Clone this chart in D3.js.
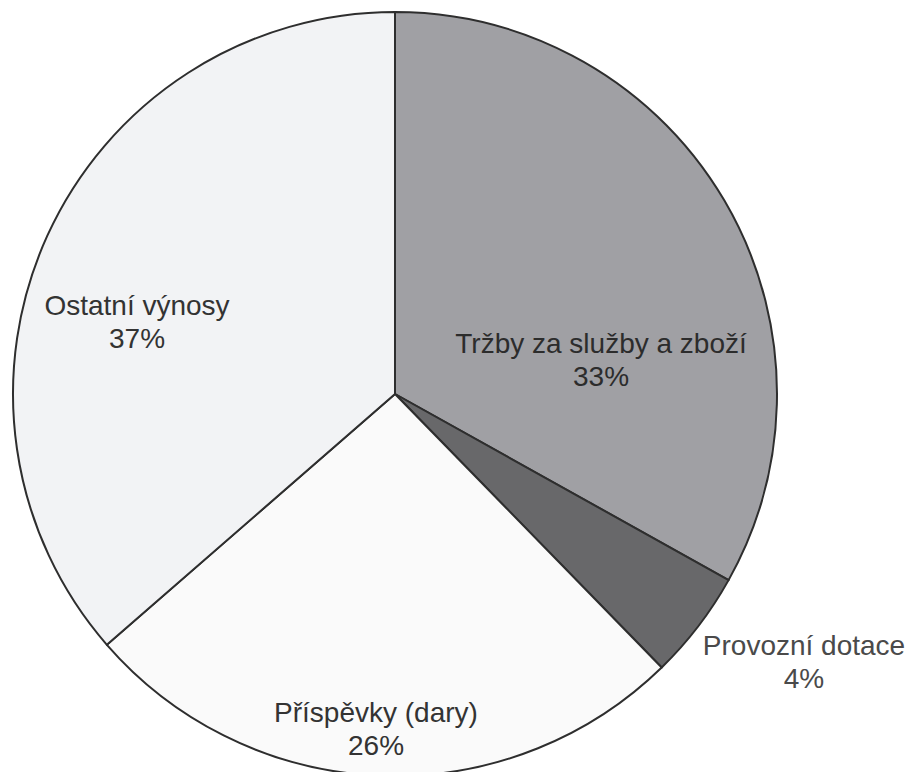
<!DOCTYPE html>
<html>
<head>
<meta charset="utf-8">
<script src="https://cdn.jsdelivr.net/npm/d3@7"></script>
<style>
  html, body { margin: 0; padding: 0; background: #fff; }
  svg { display: block; }
</style>
</head>
<body>
<svg id="chart" width="912" height="772"></svg>
<script>
const categories = ['Tržby za služby a zboží', 'Provozní dotace', 'Příspěvky (dary)', 'Ostatní výnosy'];
const values = [33.1, 4.6, 25.9, 36.4];
const percentLabels = ['33%', '4%', '26%', '37%'];

const colors = ['#a0a0a4', '#68686a', '#fafafa', '#f2f3f5'];
const textColors = ['#2c2c2c', '#4a4a4a', '#333', '#333'];
// first-line baseline of each label, relative to pie centre (px)
const labelOffsets = [[206, -41], [409, 261], [-19, 328], [-258, -79]];

const cx = 395, cy = 394, radius = 382;
const lineGap = 33;

const svg = d3.select('#chart');
const g = svg.append('g').attr('transform', 'translate(' + cx + ',' + cy + ')');

const data = categories.map(function(c, i) {
    return { label: c, value: values[i], pct: percentLabels[i], color: colors[i], text: textColors[i], off: labelOffsets[i] };
});

const pie = d3.pie()
    .sort(null)
    .value(function(d) { return d.value; });

const arc = d3.arc()
    .innerRadius(0)
    .outerRadius(radius);

g.selectAll('.slice')
    .data(pie(data))
    .enter()
    .append('path')
    .attr('class', 'slice')
    .attr('d', arc)
    .attr('fill', function(d) { return d.data.color; })
    .attr('stroke', '#2e2e2e')
    .attr('stroke-width', 2)
    .attr('stroke-linejoin', 'round');

const labels = g.selectAll('.label')
    .data(data)
    .enter()
    .append('text')
    .attr('class', 'label')
    .attr('text-anchor', 'middle')
    .attr('font-family', "'Liberation Sans', Arial, sans-serif")
    .attr('font-size', 28)
    .attr('fill', function(d) { return d.text; })
    .attr('transform', function(d) {
        return 'translate(' + d.off[0] + ',' + d.off[1] + ')';
    });

labels.append('tspan')
    .attr('x', 0)
    .attr('y', 0)
    .text(function(d) { return d.label; });

labels.append('tspan')
    .attr('x', 0)
    .attr('y', lineGap)
    .text(function(d) { return d.pct; });
</script>
</body>
</html>
